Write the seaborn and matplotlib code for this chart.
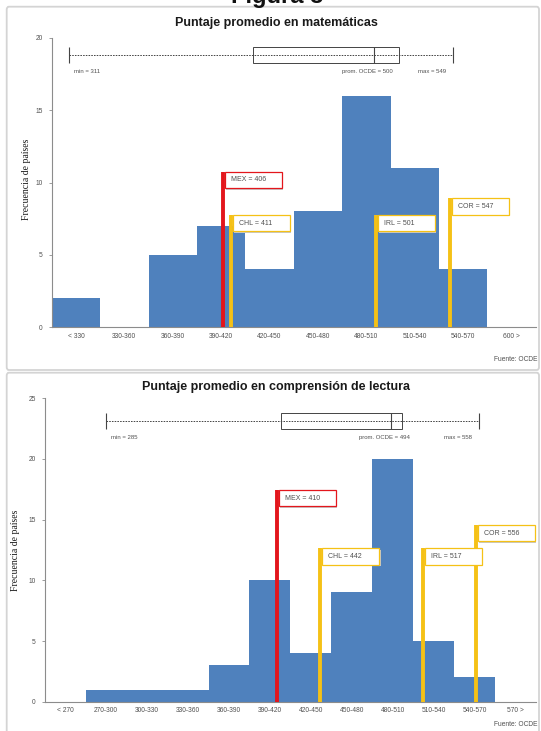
import matplotlib
matplotlib.use("Agg")
import matplotlib.pyplot as plt
import matplotlib.patches as mpatches
import matplotlib.transforms as mtransforms
import seaborn as sns

# ---- Puntaje promedio en matemáticas
MATH_CATS = ["< 330", "330-360", "360-390", "390-420", "420-450",
             "450-480", "480-510", "510-540", "540-570", "600 >"]
MATH_COUNTS = [2, 0, 5, 7, 4, 8, 16, 11, 4, 0]
MATH_FIRST_EDGE = 300          # "< 330" bin drawn as 300-330
MATH_COUNTRIES = ["MEX", "CHL", "IRL", "COR"]
MATH_SCORES = [406, 411, 501, 547]
MATH_FLAG_TOPS = [10.75, 7.76, 7.76, 8.9]
MATH_SUMMARY = [311, 425, 500, 515, 549]      # min, q1, prom OCDE, q3, max

# ---- Puntaje promedio en comprensión de lectura
READ_CATS = ["< 270", "270-300", "300-330", "330-360", "360-390", "390-420",
             "420-450", "450-480", "480-510", "510-540", "540-570", "570 >"]
READ_COUNTS = [0, 1, 1, 1, 3, 10, 4, 9, 20, 5, 2, 0]
READ_FIRST_EDGE = 240
READ_COUNTRIES = ["MEX", "CHL", "IRL", "COR"]
READ_SCORES = [410, 442, 517, 556]
READ_FLAG_TOPS = [17.45, 12.65, 12.65, 14.57]
READ_SUMMARY = [285, 413, 494, 502, 558]

BAR_BLUE = "#4F81BD"
MEX_RED = "#E3161C"
GOLD = "#F5C116"
AXIS_GREY = "#8C8C8C"
TEXT_GREY = "#505050"

W, H = 541, 731


def _setup():
    sns.set_theme(style="white")
    plt.rcParams.update({
        "font.family": ["Liberation Sans", "DejaVu Sans"],
        "figure.facecolor": "white",
    })


def fig_rect(left, top, right, bottom):
    """pixel box -> figure fraction [l, b, w, h]"""
    return [left / W, 1 - bottom / H, (right - left) / W, (bottom - top) / H]


def to_pos(score, first_edge):
    # category i spans [first_edge + 30 i, first_edge + 30 (i+1)]
    return (score - first_edge) / 30 - 0.5


def draw_flag(ax, x, top, label, color):
    fig = ax.figure
    trans = fig.dpi_scale_trans + mtransforms.ScaledTranslation(x, top, ax.transData)
    w, h, dx = 0.57, 0.165, 0.018
    ax.add_patch(mpatches.Rectangle((dx + 0.015, -h - 0.015), w, h, transform=trans,
                                    fc="#C8C8C8", ec="none", zorder=4, clip_on=False))
    ax.add_patch(mpatches.Rectangle((dx, -h), w, h, transform=trans,
                                    fc="white", ec=color, lw=0.9, zorder=5, clip_on=False))
    ax.text(dx + 0.06, -h / 2, label, transform=trans, fontsize=5, color=TEXT_GREY,
            va="center", ha="left", zorder=6, clip_on=False)


def draw_summary(ax, summary, first_edge, y_lo, y_hi):
    mn, q1, med, q3, mx = [to_pos(v, first_edge) for v in summary]
    yc = (y_lo + y_hi) / 2
    ax.hlines(yc, mn, mx, colors="#444444", linestyles=(0, (1.6, 1.2)), lw=0.7, zorder=3)
    ax.add_patch(mpatches.Rectangle((q1, y_lo), q3 - q1, y_hi - y_lo, fill=False,
                                    ec="#444444", lw=0.7, zorder=3))
    ax.vlines([mn, med, mx], y_lo, y_hi, colors="#444444", lw=0.8, zorder=3)
    kw = dict(textcoords="offset points", fontsize=4.3, color=TEXT_GREY, va="center",
              annotation_clip=False)
    ax.annotate(f"min = {summary[0]}", (mn, y_lo), xytext=(3.5, -6), ha="left", **kw)
    ax.annotate(f"prom. OCDE = {summary[2]}", (med, y_lo), xytext=(-5, -6), ha="center", **kw)
    ax.annotate(f"max = {summary[4]}", (mx, y_lo), xytext=(-5, -6), ha="right", **kw)


def draw_panel(ax, cats, counts, first_edge, countries, scores, tops, summary,
               ymax, box_lo, box_hi):
    sns.barplot(x=cats, y=counts, ax=ax, color=BAR_BLUE, width=1.0,
                saturation=1, linewidth=0, zorder=2)
    ax.set_xlim(-0.5, len(cats) - 0.5)
    ax.set_ylim(0, ymax)
    ax.set_yticks(range(0, ymax + 1, 5))
    ax.set_xlabel("")
    ax.set_ylabel("Frecuencia de países", family=["Liberation Serif", "DejaVu Serif"],
                  fontsize=7, color="#1A1A1A")
    for side in ["top", "right"]:
        ax.spines[side].set_visible(False)
    for side in ["left", "bottom"]:
        ax.spines[side].set_color(AXIS_GREY)
        ax.spines[side].set_linewidth(0.8)
    ax.tick_params(axis="y", length=2.5, width=0.6, color=AXIS_GREY, pad=4,
                   labelsize=4.8, labelcolor=TEXT_GREY, left=True)
    ax.tick_params(axis="x", length=0, pad=4, labelsize=4.8, labelcolor=TEXT_GREY)
    ax.set_facecolor("none")

    for name, sc, top in zip(countries, scores, tops):
        x = to_pos(sc, first_edge)
        color = MEX_RED if name == "MEX" else GOLD
        ax.vlines(x, 0, top, colors=color, lw=2.8, zorder=4)
        draw_flag(ax, x, top, f"{name} = {sc}", color)

    draw_summary(ax, summary, first_edge, box_lo, box_hi)


_setup()
fig = plt.figure(figsize=(W / 100, H / 100), dpi=100)

# panel frames, on a background axes below the charts
bg = fig.add_axes([0, 0, 1, 1], zorder=-10)
bg.set_axis_off()
for top, bottom in [(6.7, 370), (372.7, 740)]:
    l, b, w, h = fig_rect(6.7, top, 539, bottom)
    bg.add_patch(mpatches.FancyBboxPatch(
        (l, b), w, h, boxstyle="round,pad=0,rounding_size=0.004",
        transform=fig.transFigure, fc="white", ec="#D4D4D4", lw=1.3, clip_on=False))

fig.text(277 / W, 1 - 3 / H, "Figura 3", ha="center", va="baseline",
         fontsize=17, fontweight="bold", color="#111111")

ax1 = fig.add_axes(fig_rect(51.7, 37.7, 535.7, 327.3))
draw_panel(ax1, MATH_CATS, MATH_COUNTS, MATH_FIRST_EDGE, MATH_COUNTRIES,
           MATH_SCORES, MATH_FLAG_TOPS, MATH_SUMMARY, 20, 18.27, 19.38)
ax1.yaxis.set_label_coords(-0.042, 0.51)
fig.text(276.5 / W, 1 - 22.7 / H, "Puntaje promedio en matemáticas",
         ha="center", va="center", fontsize=9, fontweight="bold", color="#1A1A1A")
fig.text(538 / W, 1 - 359 / H, "Fuente: OCDE", ha="right", va="center",
         fontsize=4.8, color=TEXT_GREY)

ax2 = fig.add_axes(fig_rect(44.8, 398.3, 536, 701.7))
draw_panel(ax2, READ_CATS, READ_COUNTS, READ_FIRST_EDGE, READ_COUNTRIES,
           READ_SCORES, READ_FLAG_TOPS, READ_SUMMARY, 25, 22.46, 23.78)
ax2.yaxis.set_label_coords(-0.05, 0.5)
fig.text(276 / W, 1 - 386.7 / H, "Puntaje promedio en comprensión de lectura",
         ha="center", va="center", fontsize=9, fontweight="bold", color="#1A1A1A")
fig.text(538 / W, 1 - 725 / H, "Fuente: OCDE", ha="right", va="center",
         fontsize=4.8, color=TEXT_GREY)

fig.savefig("out.png", dpi=100, facecolor="white")
plt.close(fig)
